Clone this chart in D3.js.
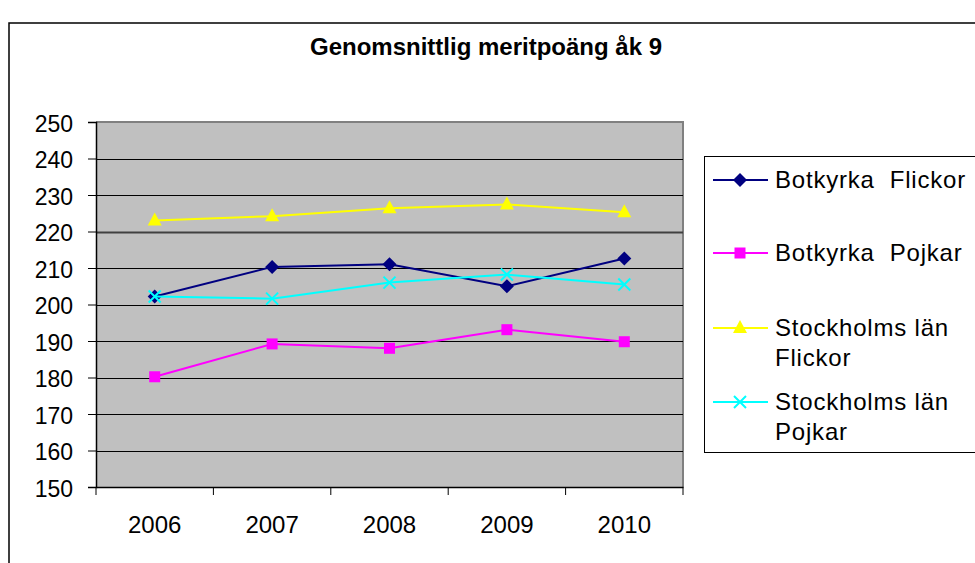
<!DOCTYPE html>
<html><head><meta charset="utf-8">
<script src="https://cdn.jsdelivr.net/npm/d3@7"></script>
<style>body{margin:0;background:#fff}svg{display:block;font-family:"Liberation Sans",Arial,sans-serif}</style>
</head><body>
<svg id="c" width="975" height="563"></svg>
<script>
const years = ["2006","2007","2008","2009","2010"];
const botkyrkaFlickor = [202.2, 210.3, 211.0, 205.0, 212.6];
const botkyrkaPojkar = [180.2, 189.2, 188.0, 193.1, 189.8];
const sthlmFlickor = [223.0, 224.2, 226.4, 227.4, 225.3];
const sthlmPojkar = [202.2, 201.6, 206.0, 208.2, 205.5];
const yTicks = [150,160,170,180,190,200,210,220,230,240,250];
const seriesNames = [["Botkyrka  Flickor"],["Botkyrka  Pojkar"],["Stockholms län","Flickor"],["Stockholms län","Pojkar"]];
const seriesColors = ["#000080","#FF00FF","#FFFF00","#00FFFF"];
const seriesSymbols = ["diamond","square","triangle","cross"];

const series = [botkyrkaFlickor, botkyrkaPojkar, sthlmFlickor, sthlmPojkar].map((v,i)=>({
  name: seriesNames[i], color: seriesColors[i], sym: seriesSymbols[i], values: v
}));

const svg = d3.select("#c");
const L=96, R=683, T=122, B=487;

svg.append("rect").attr("x",9).attr("y",23).attr("width",1100).attr("height",700)
  .attr("fill","none").attr("stroke","#000").attr("stroke-width",1.5);

svg.append("text").attr("x",486).attr("y",55).attr("text-anchor","middle")
  .attr("font-size",24).attr("font-weight","bold").text("Genomsnittlig meritpoäng åk 9");

const x = d3.scaleBand().domain(years).range([L,R]);
const y = d3.scaleLinear().domain([150,250]).range([B,T]);

svg.append("rect").attr("x",L).attr("y",T).attr("width",R-L).attr("height",B-T).attr("fill","#C0C0C0");
svg.append("polyline").attr("points",`${L},${T} ${R},${T} ${R},${B}`).attr("fill","none").attr("stroke","#808080").attr("stroke-width",2);

svg.append("g").selectAll("line").data(yTicks.slice(1,-1)).join("line")
  .attr("x1",L).attr("x2",R).attr("y1",d=>Math.round(y(d))+0.5).attr("y2",d=>Math.round(y(d))+0.5)
  .attr("stroke",d=>d===220?"#404040":"#000").attr("stroke-width",d=>d===220?2:1.2);

const yAxis = svg.append("g").attr("transform",`translate(${L},0)`)
  .call(d3.axisLeft(y).tickValues(yTicks).tickSize(8).tickPadding(15));
yAxis.select(".domain").attr("stroke","#000").attr("stroke-width",1.5);
yAxis.selectAll("text").attr("font-size",23).attr("fill","#000").attr("dy","0.4em")
  .attr("font-family","Liberation Sans, Arial, sans-serif");

const xAxis = svg.append("g").attr("transform",`translate(0,${B})`)
  .call(d3.axisBottom(x).tickSize(0).tickPadding(0));
xAxis.select(".domain").attr("stroke","#000").attr("stroke-width",1.5);
xAxis.selectAll("text").attr("font-size",24).attr("fill","#000").attr("y",46).attr("dy",0)
  .attr("font-family","Liberation Sans, Arial, sans-serif");
svg.append("g").selectAll("line").data(d3.range(years.length+1)).join("line")
  .attr("x1",i=>L+i*x.step()).attr("x2",i=>L+i*x.step()).attr("y1",B).attr("y2",B+8)
  .attr("stroke","#000").attr("stroke-width",1);

function drawMarker(g, sym, color, cx, cy){
  if(sym==="diamond"){
    g.append("path").attr("d",`M${cx},${cy-7}L${cx+7},${cy}L${cx},${cy+7}L${cx-7},${cy}Z`).attr("fill",color);
  } else if(sym==="square"){
    g.append("rect").attr("x",cx-5.5).attr("y",cy-5.5).attr("width",11).attr("height",11).attr("fill",color);
  } else if(sym==="triangle"){
    g.append("path").attr("d",`M${cx},${cy-8}L${cx+7},${cy+5}L${cx-7},${cy+5}Z`).attr("fill",color);
  } else {
    g.append("path").attr("d",`M${cx-6},${cy-6}L${cx+6},${cy+6}M${cx-6},${cy+6}L${cx+6},${cy-6}`)
      .attr("stroke",color).attr("stroke-width",2).attr("fill","none");
  }
}

const line = d3.line().x((d,i)=>x(years[i])+x.bandwidth()/2).y(d=>y(d));
const order = [2,1,0,3];
order.forEach(k=>{
  const s = series[k];
  const g = svg.append("g");
  g.append("path").attr("d",line(s.values)).attr("fill","none").attr("stroke",s.color).attr("stroke-width",2);
  s.values.forEach((v,i)=>drawMarker(g,s.sym,s.color,x(years[i])+x.bandwidth()/2,y(v)));
});

// legend
svg.append("rect").attr("x",704.5).attr("y",156.5).attr("width",400).attr("height",296)
  .attr("fill","#fff").attr("stroke","#000").attr("stroke-width",1);
const rowY = [180,253,328,402];
series.forEach((s,i)=>{
  const g = svg.append("g");
  g.append("line").attr("x1",713).attr("x2",768).attr("y1",rowY[i]).attr("y2",rowY[i]).attr("stroke",s.color).attr("stroke-width",2);
  drawMarker(g,s.sym,s.color,740,rowY[i]);
  s.name.forEach((t,j)=>{
    g.append("text").attr("x",775).attr("y",rowY[i]+8+j*30).attr("font-size",24).attr("letter-spacing",0.8).attr("fill","#000")
      .attr("xml:space","preserve").style("white-space","pre").text(t);
  });
});
</script>
</body></html>
